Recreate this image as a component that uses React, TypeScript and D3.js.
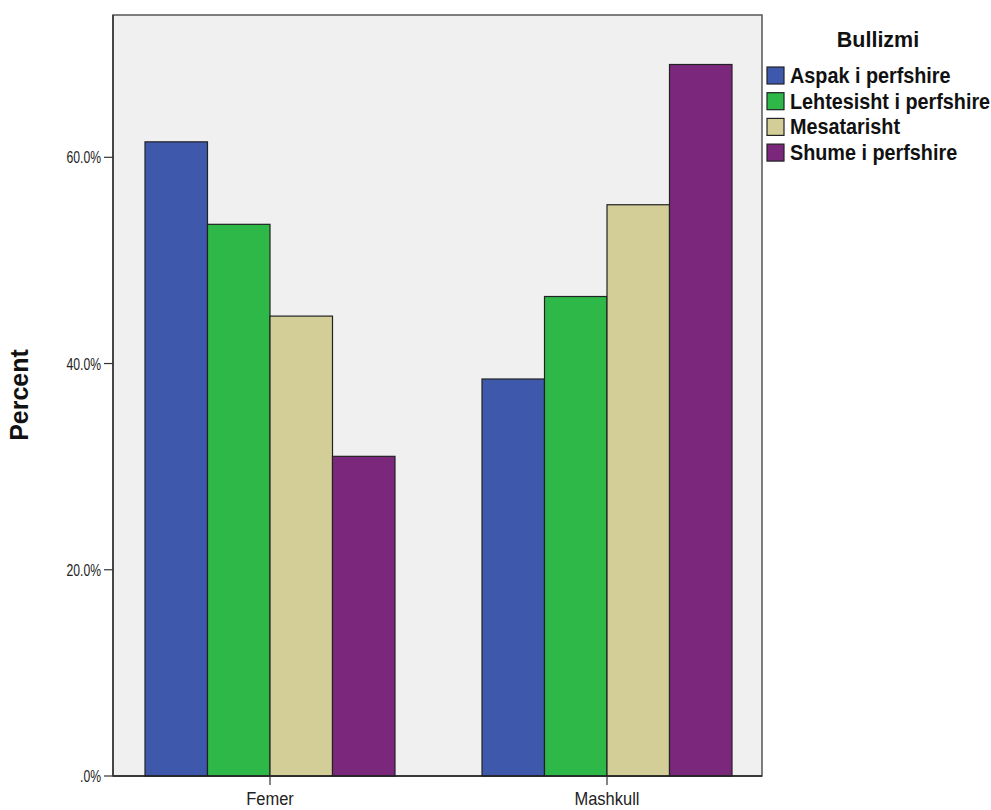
import React from "react";
import * as d3 from "d3";

const categories = ["Femer", "Mashkull"];
const seriesNames = ["Aspak i perfshire", "Lehtesisht i perfshire", "Mesatarisht", "Shume i perfshire"];
const seriesColors = ["#3e58ac", "#2eb848", "#d3ce97", "#7b287c"];
const aspak = [61.5, 38.5];
const lehtesisht = [53.5, 46.5];
const mesatarisht = [44.6, 55.4];
const shume = [31.0, 69.0];
const yTicks = [0, 20, 40, 60];
const legendTitle = "Bullizmi";
const yLabel = "Percent";

const values = [aspak, lehtesisht, mesatarisht, shume];

export default function App() {
  const W = 991, H = 810;
  const left = 113, right = 762, top = 15, bottom = 776;
  const y = d3.scaleLinear().domain([0, 73.8]).range([bottom, top]);
  const x0 = d3.scaleBand<string>().domain(categories).range([left, 764]).paddingInner(87 / 337).paddingOuter(32 / 337);
  const x1 = d3.scaleBand<string>().domain(seriesNames).range([0, x0.bandwidth()]);
  const font = "Arial, 'Liberation Sans', sans-serif";
  return (
    <svg width={W} height={H} style={{ position: "absolute", left: 0, top: 0, background: "#fff" }} fontFamily={font}>
      <rect x={left} y={top} width={right - left} height={bottom - top} fill="#f0f0f0" stroke="#555" strokeWidth={1.5} />
      {categories.map((c, ci) =>
        seriesNames.map((s, si) => {
          const v = values[si][ci];
          const bx = (x0(c) as number) + (x1(s) as number);
          return (
            <rect key={c + s} x={bx} y={y(v)} width={x1.bandwidth()} height={bottom - y(v)}
              fill={seriesColors[si]} stroke="#222" strokeWidth={1.2} />
          );
        })
      )}
      <line x1={left} x2={right} y1={bottom} y2={bottom} stroke="#222" strokeWidth={1.5} />
      <line x1={left} x2={left} y1={top} y2={bottom} stroke="#333" strokeWidth={1.5} />
      {yTicks.map((t) => (
        <g key={t}>
          <line x1={left - 9} x2={left} y1={y(t)} y2={y(t)} stroke="#333" strokeWidth={1.2} />
          <text transform={`translate(${left - 12},${y(t) + 6}) scale(1,1.3)`} textAnchor="end" fontSize={12.2} fill="#222">
            {t === 0 ? ".0%" : t.toFixed(1) + "%"}
          </text>
        </g>
      ))}
      {categories.map((c) => {
        const cx = (x0(c) as number) + x0.bandwidth() / 2;
        return (
          <g key={c}>
            <line x1={cx} x2={cx} y1={bottom} y2={bottom + 9} stroke="#333" strokeWidth={1.2} />
            <text transform={`translate(${cx},805) scale(1,1.12)`} textAnchor="middle" fontSize={16.5} fill="#222">{c}</text>
          </g>
        );
      })}
      <text transform={`translate(28,${395}) rotate(-90)`} textAnchor="middle" fontSize={25} fontWeight="bold" fill="#111">
        {yLabel}
      </text>
      <text transform="translate(878,47) scale(1,1.05)" textAnchor="middle" fontSize={21.5} fontWeight="bold" fill="#111">{legendTitle}</text>
      {seriesNames.map((s, i) => (
        <g key={s} transform={`translate(767,${67 + i * 25.7})`}>
          <rect x={0} y={0} width={17} height={17} fill={seriesColors[i]} stroke="#222" strokeWidth={1.2} />
          <text transform="translate(23,16) scale(1,1.08)" fontSize={19.8} fontWeight="bold" fill="#111">{s}</text>
        </g>
      ))}
    </svg>
  );
}
